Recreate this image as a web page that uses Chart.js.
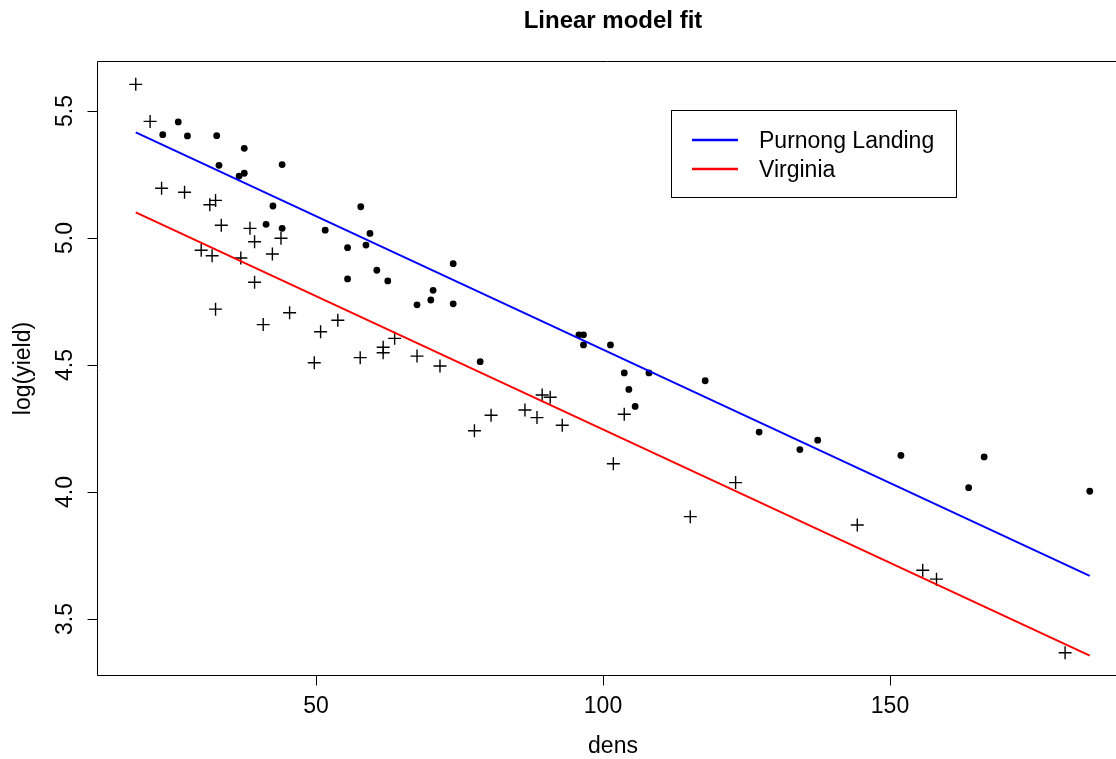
<!DOCTYPE html>
<html>
<head>
<meta charset="utf-8">
<title>Linear model fit</title>
<script src="https://cdn.jsdelivr.net/npm/chart.js@4.4.1/dist/chart.umd.min.js"></script>
<style>
html, body { margin: 0; padding: 0; background: #fff; overflow: hidden; }
</style>
</head>
<body>
<canvas id="myChart" width="1116" height="759"></canvas>
<script>
// Purnong Landing (dots)
var plDens = [23.3, 26.0, 27.6, 32.7, 33.1, 37.5, 36.6, 37.5, 44.1, 42.5, 41.3, 44.1, 51.6, 57.8, 55.5, 58.7, 59.4, 60.6, 55.5, 62.5,
              73.9, 70.4, 70.0, 67.6, 73.9, 78.6, 95.8, 96.6, 96.6, 101.3, 103.7, 108.0, 104.5, 105.6, 117.8, 127.2, 134.3, 137.4,
              151.9, 166.4, 163.7, 184.8];
var plLogYield = [5.407, 5.457, 5.402, 5.403, 5.286, 5.353, 5.244, 5.255, 5.289, 5.126, 5.054, 5.038, 5.031, 5.123, 4.962, 4.972,
                  5.018, 4.873, 4.839, 4.831, 4.899, 4.794, 4.756, 4.737, 4.741, 4.513, 4.619, 4.619, 4.579, 4.579, 4.469, 4.469,
                  4.404, 4.337, 4.438, 4.236, 4.167, 4.204, 4.144, 4.138, 4.017, 4.003];
// Virginia (crosses)
var vaDens = [18.6, 21.1, 23.1, 27.1, 31.5, 32.5, 33.5, 38.5, 43.9, 39.3, 30.0, 31.9, 36.9, 42.4, 39.3, 32.5, 45.4, 40.8, 50.8, 53.8,
              49.7, 57.7, 61.7, 61.7, 63.7, 67.6, 71.6, 77.6, 80.5, 86.4, 88.5, 89.4, 90.8, 92.9, 103.7, 101.8, 115.2, 123.1,
              144.3, 155.7, 158.1, 180.5];
var vaLogYield = [5.605, 5.459, 5.196, 5.180, 5.131, 5.148, 5.050, 5.038, 4.999, 4.985, 4.952, 4.930, 4.921, 4.937, 4.826, 4.720,
                  4.706, 4.659, 4.631, 4.676, 4.509, 4.529, 4.570, 4.548, 4.605, 4.535, 4.496, 4.241, 4.302, 4.323, 4.293, 4.382,
                  4.373, 4.263, 4.306, 4.111, 3.903, 4.037, 3.870, 3.692, 3.657, 3.367];
// fitted lines (end points)
var fitDens = [18.6, 184.8];
var plFit = [5.416, 3.670];
var vaFit = [5.101, 3.356];

var seriesNames = ['Purnong Landing', 'Virginia'];
var lineColors = ['#0000ff', '#ff0000'];
var xTicks = [50, 100, 150];
var yTicks = [3.5, 4.0, 4.5, 5.0, 5.5];
var yTickLabels = ['3.5', '4.0', '4.5', '5.0', '5.5'];

var FONT = '"Liberation Sans", Arial, Helvetica, sans-serif';

function toPoints(xs, ys) {
    var out = [];
    for (var i = 0; i < xs.length; i++) {
        out.push({x: xs[i], y: ys[i]});
    }
    return out;
}

var rStyle = {// box, labels, title and legend drawn like base R graphics
    id: 'rStyle',
    afterDraw: function(chart) {
        var ctx = chart.ctx;
        var a = chart.chartArea;
        var xs = chart.scales.x;
        var ys = chart.scales.y;

        ctx.save();
        // box (right side falls outside the picture)
        ctx.strokeStyle = '#000';
        ctx.lineWidth = 1;
        ctx.beginPath();
        ctx.moveTo(a.right + 20, a.top);
        ctx.lineTo(a.left, a.top);
        ctx.lineTo(a.left, a.bottom);
        ctx.lineTo(a.right + 20, a.bottom);
        ctx.stroke();

        ctx.fillStyle = '#000';
        ctx.font = '23px ' + FONT;
        ctx.textAlign = 'center';
        ctx.textBaseline = 'alphabetic';
        for (var i = 0; i < xTicks.length; i++) {
            ctx.fillText(String(xTicks[i]), xs.getPixelForValue(xTicks[i]), 713);
        }
        for (var j = 0; j < yTicks.length; j++) {
            ctx.save();
            ctx.translate(72, ys.getPixelForValue(yTicks[j]));
            ctx.rotate(-Math.PI / 2);
            ctx.fillText(yTickLabels[j], 0, 0);
            ctx.restore();
        }

        // axis titles
        var midX = 613;
        var midY = (a.top + a.bottom) / 2;
        ctx.fillText('dens', midX, 753);
        ctx.save();
        ctx.translate(30, midY);
        ctx.rotate(-Math.PI / 2);
        ctx.fillText('log(yield)', 0, 0);
        ctx.restore();

        // main title
        ctx.font = 'bold 24px ' + FONT;
        ctx.fillText('Linear model fit', midX, 28);

        // legend
        ctx.lineWidth = 1;
        ctx.strokeRect(671.5, 110.5, 285, 87);
        ctx.font = '23px ' + FONT;
        ctx.textAlign = 'left';
        for (var k = 0; k < seriesNames.length; k++) {
            var ly = 140 + k * 29;
            ctx.strokeStyle = lineColors[k];
            ctx.lineWidth = 2.5;
            ctx.beginPath();
            ctx.moveTo(692, ly);
            ctx.lineTo(738, ly);
            ctx.stroke();
            ctx.fillText(seriesNames[k], 759, ly + 8);
        }
        ctx.restore();
    }
};

var ctx1 = document.getElementById('myChart').getContext('2d');
var myChart = new Chart(ctx1, {
    type: 'scatter',
    data: {
        datasets: [{
            label: seriesNames[0] + ' fit',
            data: toPoints(fitDens, plFit),
            showLine: true,
            borderColor: lineColors[0],
            borderWidth: 2,
            pointRadius: 0
        }, {
            label: seriesNames[1] + ' fit',
            data: toPoints(fitDens, vaFit),
            showLine: true,
            borderColor: lineColors[1],
            borderWidth: 2,
            pointRadius: 0
        }, {
            label: seriesNames[0],
            data: toPoints(plDens, plLogYield),
            pointStyle: 'circle',
            pointRadius: 3.4,
            backgroundColor: '#000',
            borderColor: '#000',
            borderWidth: 0
        }, {
            label: seriesNames[1],
            data: toPoints(vaDens, vaLogYield),
            pointStyle: 'cross',
            pointRadius: 6.5,
            borderColor: '#000',
            borderWidth: 1.4
        }]
    },
    options: {
        responsive: false,
        animation: false,
        devicePixelRatio: 1,
        events: [],
        layout: {
            autoPadding: false,
            padding: {top: 61.5, left: 0, right: 0, bottom: 0}
        },
        plugins: {
            legend: {display: false},
            tooltip: {enabled: false},
            title: {display: false}
        },
        scales: {
            x: {
                type: 'linear',
                min: 11.934,
                max: 189.37,
                afterBuildTicks: function(scale) {
                    scale.ticks = xTicks.map(function(v) { return {value: v}; });
                },
                afterFit: function(scale) {
                    scale.height = 83.5;
                },
                grid: {drawOnChartArea: false, drawTicks: true, tickLength: 10, color: '#000'},
                border: {display: false},
                ticks: {display: false}
            },
            y: {
                type: 'linear',
                min: 3.2776,
                max: 5.6949,
                afterBuildTicks: function(scale) {
                    scale.ticks = yTicks.map(function(v) { return {value: v}; });
                },
                afterFit: function(scale) {
                    scale.width = 97.5;
                },
                grid: {drawOnChartArea: false, drawTicks: true, tickLength: 10, color: '#000'},
                border: {display: false},
                ticks: {display: false}
            }
        }
    },
    plugins: [rStyle]
});
</script>
</body>
</html>
